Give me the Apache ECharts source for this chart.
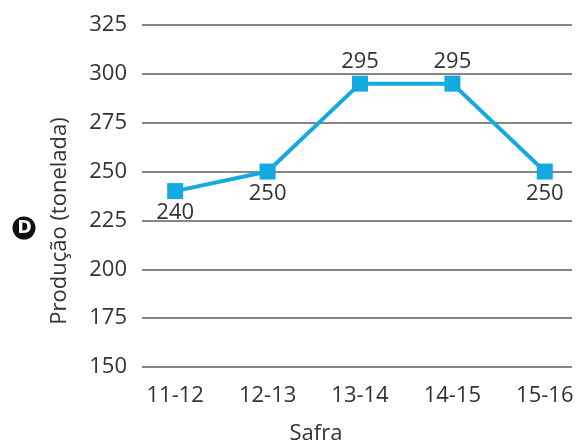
<!DOCTYPE html>
<html><head><meta charset="utf-8">
<script src="https://cdn.jsdelivr.net/npm/echarts@6/dist/echarts.min.js"></script>
<style>html,body{margin:0;padding:0;background:#fff}#c{width:581px;height:447px}</style>
</head><body><div id="c"></div>
<script>
const categories = ['11-12', '12-13', '13-14', '14-15', '15-16'];
const production = [240, 250, 295, 295, 250];
const labelPos = ['bottom', 'bottom', 'top', 'top', 'bottom'];
const yMin = 150, yMax = 325, yStep = 25;

const font = 'Open Sans';
const txt = '#333333';
const blue = '#14a9e1';
const fs = 22;

const chart = echarts.init(document.getElementById('c'), null, {renderer: 'canvas'});
chart.setOption({
  animation: false,
  grid: [
    {left: 142, right: 9, top: 25, bottom: 80, outerBoundsMode: 'none', containLabel: false},
    {left: 129, width: 462, top: 25, bottom: 80, outerBoundsMode: 'none', containLabel: false}
  ],
  xAxis: [
    {gridIndex: 0, type: 'value', show: false, min: 0, max: 1},
    {gridIndex: 1, type: 'category', data: categories, boundaryGap: true,
     axisLine: {show: false}, axisTick: {show: false},
     axisLabel: {color: txt, fontFamily: font, fontSize: fs, margin: 18}}
  ],
  yAxis: [
    {gridIndex: 0, type: 'value', min: yMin, max: yMax, interval: yStep,
     axisLine: {show: false}, axisTick: {show: false},
     axisLabel: {color: txt, fontFamily: font, fontSize: fs, margin: 15},
     splitLine: {show: true, lineStyle: {color: '#5e5e5e', width: 1.5}}},
    {gridIndex: 1, type: 'value', min: yMin, max: yMax, interval: yStep, show: false,
     splitLine: {show: false}}
  ],
  graphic: [
    {type: 'text', x: 60, y: 221, rotation: Math.PI / 2,
     style: {text: 'Produção (tonelada)', fill: txt, font: fs + 'px "Open Sans"',
             align: 'center', verticalAlign: 'middle'}},
    {type: 'text', x: 316, y: 434,
     style: {text: 'Safra', fill: txt, font: fs + 'px "Open Sans"',
             align: 'center', verticalAlign: 'middle'}},
    {type: 'circle', shape: {cx: 24, cy: 228, r: 11.5}, style: {fill: '#111'}},
    {type: 'text', x: 24.5, y: 228.5,
     style: {text: 'D', fill: '#fff', font: 'bold 17px "DejaVu Sans"',
             align: 'center', verticalAlign: 'middle'}}
  ],
  series: [{
    type: 'line', xAxisIndex: 1, yAxisIndex: 1,
    data: production.map((v, i) => ({value: v, label: {position: labelPos[i]}})),
    symbol: 'rect', symbolSize: 16,
    lineStyle: {color: blue, width: 4},
    itemStyle: {color: blue},
    label: {show: true, color: txt, fontFamily: font, fontSize: fs, distance: 3}
  }]
});
</script></body></html>
